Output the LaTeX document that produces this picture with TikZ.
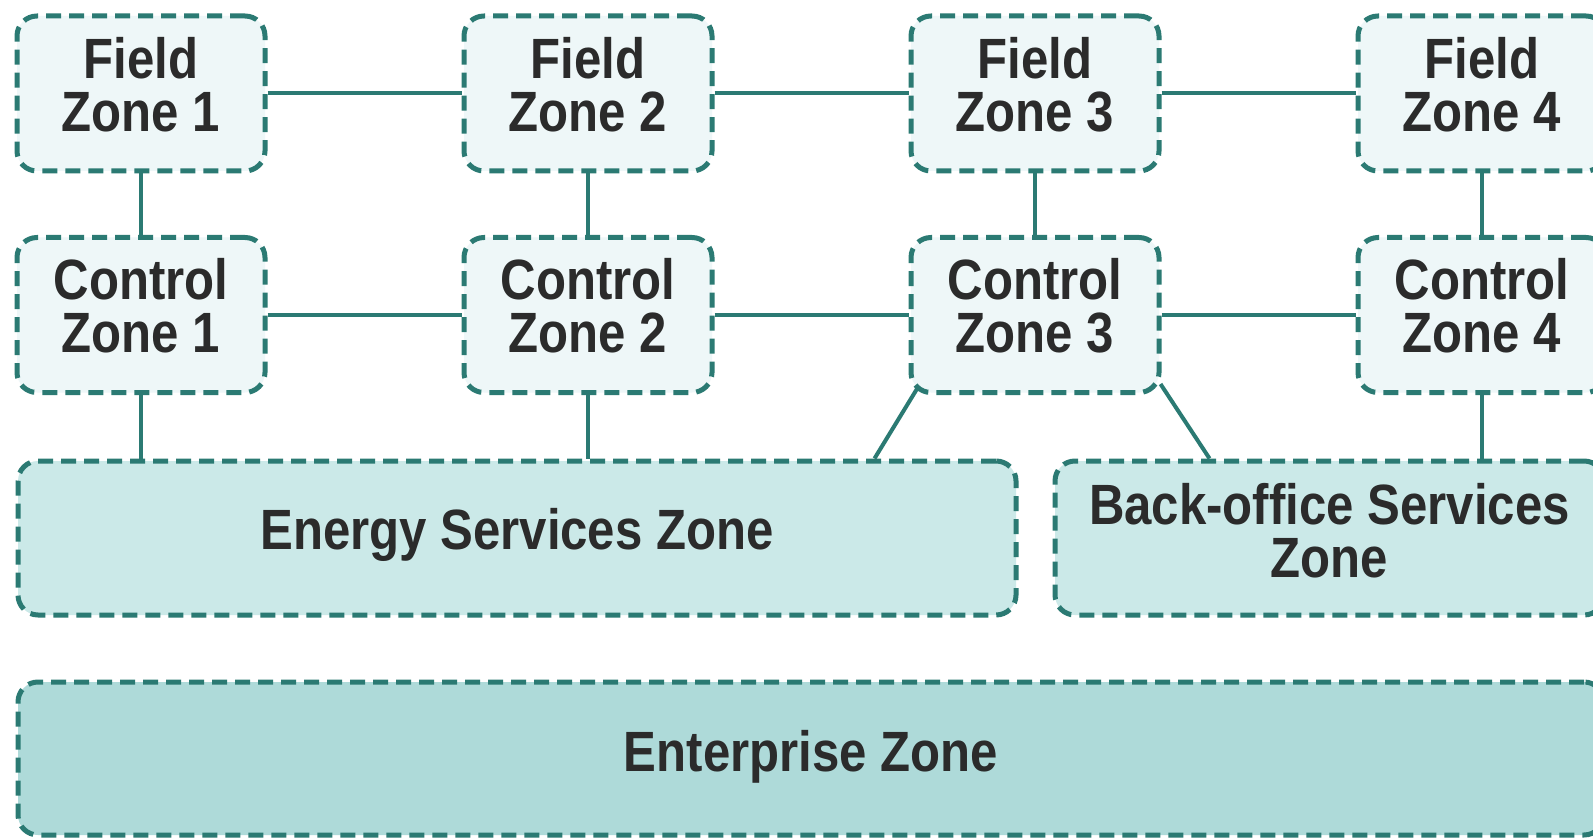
\documentclass[tikz,border=0pt]{standalone}
\usepackage{fontspec}
\usetikzlibrary{calc}
\newfontfamily\zonefont{Liberation Sans}[FakeStretch=0.865]
\definecolor{zoneline}{HTML}{2B7A73}
\definecolor{zonelight}{HTML}{EEF7F8}
\definecolor{zonemid}{HTML}{CBE9E8}
\definecolor{zonedark}{HTML}{AEDAD9}
\definecolor{zonetext}{HTML}{2B2B2B}
\tikzset{
  zonebox/.style={draw=zoneline, line width=2.5pt, dash pattern=on 7.5pt off 4pt,
    rounded corners=10pt, inner sep=0pt},
  zonelabel/.style={align=center, text=zonetext, inner sep=0pt,
    font=\zonefont\bfseries\fontsize{28.4}{26.5}\selectfont},
  smallzone/.style={zonebox, fill=zonelight, minimum width=124pt, minimum height=77.5pt},
  link/.style={draw=zoneline, line width=2pt}
}
\begin{document}
\begin{tikzpicture}[x=0.5pt, y=-0.5pt]
\useasboundingbox (0,0) rectangle (1593,839);
\fill[white] (0,0) rectangle (1593,839);
\clip (0,0) rectangle (1593,839);

% field row
\node[smallzone] (fz1) at (141,93.5)  {};
\node[smallzone] (fz2) at (588,93.5)  {};
\node[smallzone] (fz3) at (1035,93.5) {};
\node[smallzone] (fz4) at (1482,93.5) {};

% control row
\node[smallzone] (cz1) at (141,315)  {};
\node[smallzone] (cz2) at (588,315)  {};
\node[smallzone] (cz3) at (1035,315) {};
\node[smallzone] (cz4) at (1482,315) {};

% service zones
\node[zonebox, fill=zonemid, minimum width=499pt, minimum height=77pt] (es) at (517,538) {};
\node[zonebox, fill=zonemid, minimum width=274.5pt, minimum height=77pt] (bo) at (1329.5,538) {};

% enterprise zone
\node[zonebox, fill=zonedark, minimum width=793pt, minimum height=76.5pt] (ent) at (811,758.5) {};

% zone names
\node[zonelabel] (fz1-t) at ($(fz1)+(0,-9)$) {Field\\Zone 1};
\node[zonelabel] (fz2-t) at ($(fz2)+(0,-9)$) {Field\\Zone 2};
\node[zonelabel] (fz3-t) at ($(fz3)+(0,-9)$) {Field\\Zone 3};
\node[zonelabel] (fz4-t) at ($(fz4)+(0,-9)$) {Field\\Zone 4};
\node[zonelabel] (cz1-t) at ($(cz1)+(0,-9)$) {Control\\Zone 1};
\node[zonelabel] (cz2-t) at ($(cz2)+(0,-9)$) {Control\\Zone 2};
\node[zonelabel] (cz3-t) at ($(cz3)+(0,-9)$) {Control\\Zone 3};
\node[zonelabel] (cz4-t) at ($(cz4)+(0,-9)$) {Control\\Zone 4};
\node[zonelabel] (es-t)  at ($(es)+(0,-3)$)  {Energy Services Zone};
\node[zonelabel] (bo-t)  at ($(bo)+(0,-7)$)  {Back-office Services\\Zone};
\node[zonelabel] (ent-t) at ($(ent)+(0,-2)$) {Enterprise Zone};

% horizontal links
\draw[link] (fz1.east) -- (fz2.west);
\draw[link] (fz2.east) -- (fz3.west);
\draw[link] (fz3.east) -- (fz4.west);
\draw[link] (cz1.east) -- (cz2.west);
\draw[link] (cz2.east) -- (cz3.west);
\draw[link] (cz3.east) -- (cz4.west);

% field to control
\draw[link] (fz1.south) -- (cz1.north);
\draw[link] (fz2.south) -- (cz2.north);
\draw[link] (fz3.south) -- (cz3.north);
\draw[link] (fz4.south) -- (cz4.north);

% control to services
\draw[link] (cz1.south) -- (cz1.south |- es.north);
\draw[link] (cz2.south) -- (cz2.south |- es.north);
\draw[link] ($(cz3.south west)+(9,-7)$) -- ($(es.north east)+(-144,0)$);
\draw[link] ($(cz3.south east)+(-1,-11)$) -- ($(bo.north west)+(157,0)$);
\draw[link] (cz4.south) -- (cz4.south |- bo.north);

% services to enterprise
\draw[link] ($(es.south)+(-2,0)$) -- ($(es.south)+(-2,0)$ |- ent.north);
\draw[link] ($(bo.south)+(10,0)$) -- ($(bo.south)+(10,0)$ |- ent.north);
\end{tikzpicture}
\end{document}
